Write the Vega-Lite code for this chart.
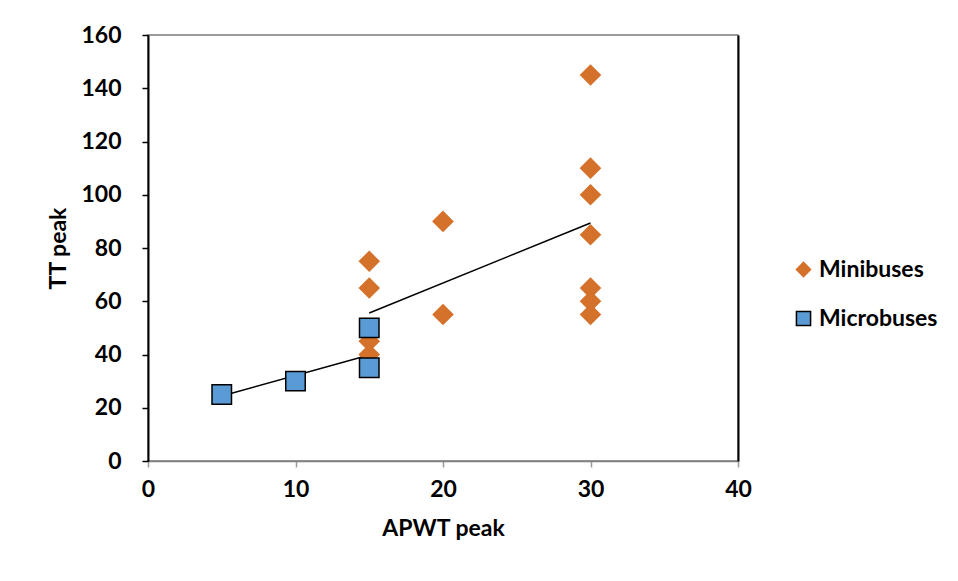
{
  "$schema": "https://vega.github.io/schema/vega-lite/v6.json",
  "width": 590,
  "height": 426,
  "autosize": "none",
  "padding": {"left": 148, "top": 35, "right": 220, "bottom": 120},
  "background": "white",
  "config": {
    "font": "Lato",
    "view": {"stroke": "#7a7a7a", "strokeWidth": 1.5},
    "axis": {"grid": false, "labelFont": "Lato", "labelFontWeight": "bold", "labelFontSize": 23, "labelColor": "#000", "labelFlush": false, "titleFont": "Lato", "titleFontWeight": "bold", "titleFontSize": 23, "titleColor": "#000"},
    "legend": {"labelFont": "Lato", "labelFontWeight": "bold", "labelFontSize": 23, "labelColor": "#000"}
  },
  "datasets": {
    "pts": [
      {"series": "Minibuses", "apwt": 15, "tt": 75},
      {"series": "Minibuses", "apwt": 15, "tt": 65},
      {"series": "Minibuses", "apwt": 15, "tt": 45},
      {"series": "Minibuses", "apwt": 15, "tt": 40},
      {"series": "Minibuses", "apwt": 20, "tt": 90},
      {"series": "Minibuses", "apwt": 20, "tt": 55},
      {"series": "Minibuses", "apwt": 30, "tt": 145},
      {"series": "Minibuses", "apwt": 30, "tt": 110},
      {"series": "Minibuses", "apwt": 30, "tt": 100},
      {"series": "Minibuses", "apwt": 30, "tt": 85},
      {"series": "Minibuses", "apwt": 30, "tt": 65},
      {"series": "Minibuses", "apwt": 30, "tt": 60},
      {"series": "Minibuses", "apwt": 30, "tt": 55},
      {"series": "Microbuses", "apwt": 5, "tt": 25},
      {"series": "Microbuses", "apwt": 10, "tt": 30},
      {"series": "Microbuses", "apwt": 15, "tt": 50},
      {"series": "Microbuses", "apwt": 15, "tt": 35}
    ],
    "trend": [
      {"series": "Minibuses", "apwt": 15, "tt": 55.6},
      {"series": "Minibuses", "apwt": 30, "tt": 89.4},
      {"series": "Microbuses", "apwt": 5, "tt": 24.4},
      {"series": "Microbuses", "apwt": 15, "tt": 39.8}
    ]
  },
  "layer": [
    {
      "data": {"name": "trend"},
      "mark": {"type": "line", "color": "#000", "strokeWidth": 1.5},
      "encoding": {
        "x": {"field": "apwt", "type": "quantitative", "scale": {"domain": [0, 40]},
          "axis": {"values": [0, 10, 20, 30, 40], "title": "APWT peak", "domainColor": "#808080", "domainWidth": 1.5, "tickColor": "#9a9a9a", "tickSize": 6, "tickWidth": 1.5, "labelPadding": 11, "titlePadding": 16}},
        "y": {"field": "tt", "type": "quantitative", "scale": {"domain": [0, 160]},
          "axis": {"values": [0, 20, 40, 60, 80, 100, 120, 140, 160], "title": "TT peak", "domainColor": "#000", "domainWidth": 2, "tickColor": "#000", "tickSize": 6, "tickWidth": 1.5, "labelPadding": 21, "titlePadding": 10}},
        "detail": {"field": "series"}
      }
    },
    {
      "data": {"name": "pts"},
      "mark": {"type": "point", "filled": true, "size": 380, "strokeWidth": 1.5, "opacity": 1},
      "encoding": {
        "x": {"field": "apwt", "type": "quantitative"},
        "y": {"field": "tt", "type": "quantitative",
          "axis": {"orient": "right", "labels": false, "ticks": false, "title": null, "domainColor": "#000", "domainWidth": 2}},
        "fill": {"field": "series", "type": "nominal", "title": null,
          "scale": {"domain": ["Minibuses", "Microbuses"], "range": ["#D4712B", "#5B9BD5"]},
          "legend": {"orient": "none", "legendX": 644, "legendY": 223, "symbolSize": 200, "rowPadding": 25, "labelOffset": 4, "symbolStrokeWidth": 1.5}},
        "shape": {"field": "series", "type": "nominal", "title": null,
          "scale": {"domain": ["Minibuses", "Microbuses"], "range": ["diamond", "square"]}},
        "stroke": {"field": "series", "type": "nominal", "title": null,
          "scale": {"domain": ["Minibuses", "Microbuses"], "range": ["#D4712B", "#000000"]}}
      }
    }
  ],
  "resolve": {"axis": {"y": "independent"}}
}
